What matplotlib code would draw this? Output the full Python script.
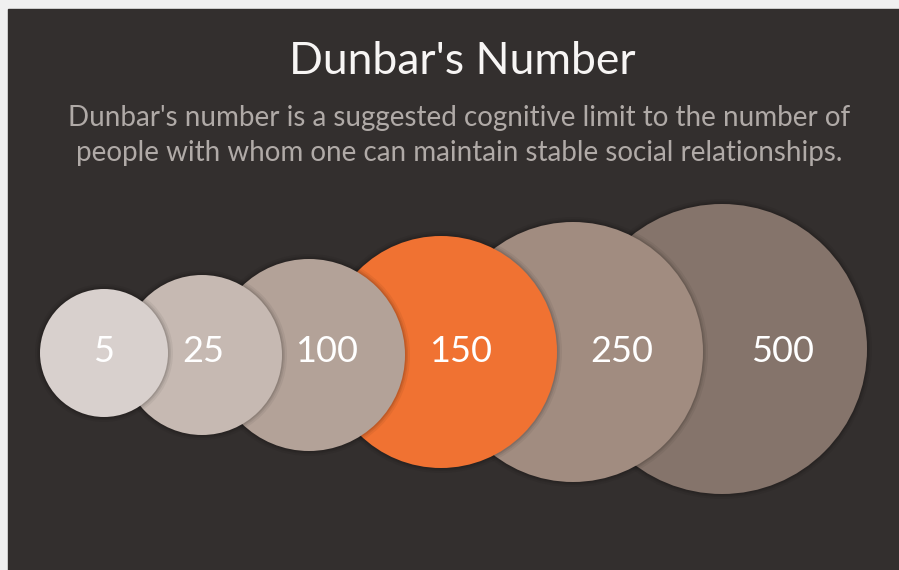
import matplotlib.pyplot as plt
from matplotlib.patches import Circle, Rectangle

# Text
title = "Dunbar's Number"
subtitle = [
    "Dunbar's number is a suggested cognitive limit to the number of",
    "people with whom one can maintain stable social relationships.",
]

# Data
group_sizes = [5, 25, 100, 150, 250, 500]
highlight = 150

# Layout (pixels, figure is 899x570)
W, H = 899, 570
centers_x = [104, 202, 309, 441, 573, 722]
centers_y = [353, 355, 355, 352, 352, 349]
radii = [64, 80, 96, 116, 130, 145]
label_x = [104, 203, 327, 461, 622, 783]
label_y = 352
colors = ["#d8d0cd", "#c6b9b2", "#b3a298", "#f07232", "#a18c80", "#85746b"]

BG = "#332f2e"
FONT = "Lato"

fig = plt.figure(figsize=(W / 100, H / 100), dpi=100, facecolor="#f0f0f0")
ax = fig.add_axes([0, 0, 1, 1])
ax.set_xlim(0, W)
ax.set_ylim(H, 0)
ax.axis("off")

# dark panel with thin light border top/left
ax.add_patch(Rectangle((8, 9), W - 8, H - 9, color=BG, zorder=0))

# circles, smaller ones on top
for i, size in enumerate(group_sizes):
    z = 20 - 2 * i
    cx, cy, r = centers_x[i], centers_y[i], radii[i]
    # soft shadow
    for k, a in [(5, 0.05), (3, 0.07), (1.5, 0.09)]:
        ax.add_patch(Circle((cx, cy), r + k, color="black", alpha=a,
                            lw=0, zorder=z - 1))
    ax.add_patch(Circle((cx, cy), r, color=colors[i], lw=0, zorder=z))
    ax.text(label_x[i], label_y, str(size), color="white", fontsize=26,
            family=FONT, ha="center", va="center", zorder=30)

ax.text(462, 62, title, color="#f7f5f4", fontsize=32, family=FONT,
        ha="center", va="center")
ax.text(459, 118, subtitle[0], color="#b0aaa7", fontsize=20, family=FONT,
        ha="center", va="center")
ax.text(459, 153, subtitle[1], color="#b0aaa7", fontsize=20, family=FONT,
        ha="center", va="center")

fig.savefig("out.png", dpi=100, facecolor=fig.get_facecolor())
